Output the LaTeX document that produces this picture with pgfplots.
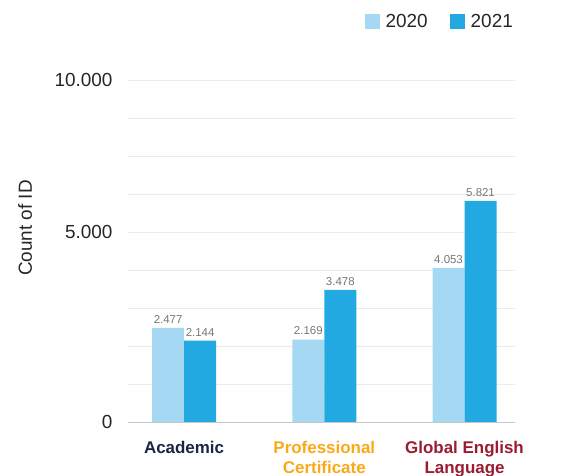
\documentclass[border=0pt]{standalone}
\usepackage{fontspec}
\setmainfont{Liberation Sans}
\usepackage{pgfplots}
\pgfplotsset{compat=1.18}
\definecolor{c2020}{HTML}{A5D8F3}
\definecolor{c2021}{HTML}{22A9E1}
\definecolor{valgray}{HTML}{777777}
\definecolor{acad}{HTML}{1D2545}
\definecolor{prof}{HTML}{FBA919}
\definecolor{glob}{HTML}{9B1B30}
\begin{document}
\begin{tikzpicture}[x=1bp,y=1bp]
\path[use as bounding box] (0,0) rectangle (582,476);
\begin{axis}[
    at={(128bp,54bp)}, anchor=south west,
    scale only axis, width=387bp, height=342bp,
    xmin=-0.4, xmax=2.36, ymin=0, ymax=9000,
    axis lines*=left,
    y axis line style={draw=none},
    x axis line style={draw=black!22, line width=0.8bp},
    major tick length=0pt,
    ytick={0,1000,...,9000},
    yticklabels={0,,,,,5.000,,,,10.000},
    ymajorgrids, grid style={draw=black!8, line width=0.8bp},
    /pgf/number format/assume math mode=true,
    yticklabel style={font=\fontsize{19}{22}\selectfont, text=black!85, xshift=-12bp},
    xtick={0,1,2},
    xticklabels={{\color{acad}Academic},{\color{prof}Professional\\\color{prof}Certificate},{\color{glob}Global English\\\color{glob}Language}},
    xticklabel style={font=\bfseries\fontsize{17}{20}\selectfont, align=center, yshift=-16bp},
    ybar=0pt, bar width=32bp,
    nodes near coords={\pgfmathprintnumber[1000 sep={.}]{\pgfplotspointmeta}},
    every node near coord/.append style={font=\fontsize{11.5}{13}\selectfont, text=valgray, yshift=1bp},
    legend columns=2,
    legend style={draw=none, fill=none, at={(1,1.17)}, anchor=east,
        font=\fontsize{19}{22}\selectfont, inner sep=0pt, text=black!85,
        /tikz/every odd column/.append style={column sep=4bp},
        /tikz/every even column/.append style={column sep=20bp}},
    legend image code/.code={\fill[#1] (0bp,-7.5bp) rectangle (15bp,7.5bp);},
]
\addplot[fill=c2020, draw=none] coordinates {(0,2477) (1,2169) (2,4053)};
\addlegendentry{2020}
\addplot[fill=c2021, draw=none] coordinates {(0,2144) (1,3478) (2,5821)};
\addlegendentry{2021}
\end{axis}
\node[rotate=90, font=\fontsize{19}{22}\selectfont, text=black!85] at (25,248) {Count of ID};
\end{tikzpicture}
\end{document}
